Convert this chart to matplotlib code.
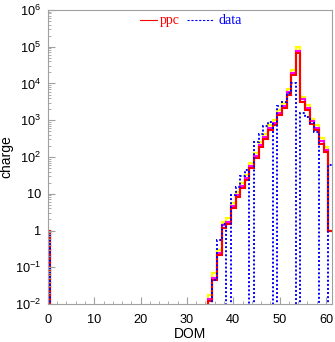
import numpy as np
import matplotlib as mpl
import matplotlib.pyplot as plt
from matplotlib.ticker import FixedLocator, FixedFormatter, MultipleLocator

mpl.rcParams['font.family'] = 'Liberation Sans'
mpl.rcParams['mathtext.default'] = 'regular'

# one bin per DOM, centred on the DOM number
edges = np.arange(-0.5, 62.0)

# charge per DOM for DOM 35..61; DOM 0 holds a single unit, the rest is empty
first_dom = 35
dom0 = 1.0
ppc = [0.012, 0.045, 0.21, 1.2, 1.5, 4, 8, 14, 23, 49, 93, 190, 310, 540, 740,
       1400, 2100, 5000, 1.7e4, 6.8e4, 3.2e3, 1.9e3, 810, 540, 232, 138, 1]
ppc_hi = [0.018, 0.068, 0.3, 1.7, 2.2, 5.5, 11, 19, 32, 68, 130, 260, 420, 740, 1000,
          1900, 2900, 7000, 2.3e4, 1.0e5, 4.4e3, 2.6e3, 1.1e3, 740, 320, 190, 1]
ppc_mid = [0.014, 0.052, 0.24, 1.4, 1.7, 4.6, 9.2, 16, 26, 56, 107, 215, 350, 620, 850,
           1600, 2400, 5700, 1.95e4, 7.8e4, 3.7e3, 2.2e3, 930, 620, 265, 158, 1]
data = [0, 0.045, 0.55, 1.5, 0, 9, 15, 30, 45, 0, 250, 430, 700, 900, 0,
        2500, 3200, 5400, 1.0e4, 0, 1.6e3, 1.2e3, 830, 480, 0, 0, 60]


def fill(vals):
    h = np.zeros(len(edges) - 1)
    h[0] = dom0
    h[first_dom:first_dom + len(vals)] = vals
    return np.maximum(h, 1e-5)


fig = plt.figure(figsize=(3.35, 3.42), dpi=100)
ax = fig.add_axes([0.143, 0.111, 0.848, 0.86])

ax.stairs(fill(ppc_hi), edges, color='#ffff00', lw=1.6, baseline=None)
ax.stairs(fill(ppc_mid), edges, color='#ff00ff', lw=1.5, baseline=None)
ax.stairs(fill(ppc), edges, color='#ff0000', lw=1.5, baseline=None)
ax.stairs(fill(data), edges, color='#0000ff', lw=1.4, ls=(0, (1, 1.1)), baseline=None)

ax.set_yscale('log')
ax.set_xlim(0, 61.3)
ax.set_ylim(1e-2, 1e6)

yt = [1e-2, 1e-1, 1, 10, 1e2, 1e3, 1e4, 1e5, 1e6]
ylab = ['10$^{-2}$', '10$^{-1}$', '1', '10', '10$^{2}$', '10$^{3}$', '10$^{4}$',
        '10$^{5}$', '10$^{6}$']
ax.yaxis.set_major_locator(FixedLocator(yt))
ax.yaxis.set_major_formatter(FixedFormatter(ylab))
ax.xaxis.set_major_locator(MultipleLocator(10))
ax.xaxis.set_minor_locator(MultipleLocator(2))

for s in ax.spines.values():
    s.set_color('#a0a0a0')
ax.tick_params(which='both', direction='in', color='#a0a0a0', labelsize=9.2,
               top=False, right=False)
ax.tick_params(which='major', length=5)
ax.tick_params(which='minor', length=2.5)
ax.tick_params(axis='x', pad=7)
ax.tick_params(axis='y', pad=5)

ax.set_xlabel('DOM', fontsize=10, labelpad=1)
ax.set_ylabel('charge', fontsize=10)
ax.yaxis.set_label_coords(-0.122, 0.5)

# legend drawn by hand as in the original ROOT output
ax.plot([0.325, 0.385], [0.965, 0.965], transform=ax.transAxes, color='#ff0000', lw=0.8)
ax.text(0.395, 0.965, 'ppc', transform=ax.transAxes, color='#ff0000',
        family='Liberation Serif', fontsize=10, va='center')
ax.plot([0.49, 0.58], [0.965, 0.965], transform=ax.transAxes, color='#0000ff',
        lw=0.8, ls=(0, (2, 1.5)))
ax.text(0.6, 0.965, 'data', transform=ax.transAxes, color='#0000ff',
        family='Liberation Serif', fontsize=10, va='center')

fig.savefig('out.png', dpi=100)
